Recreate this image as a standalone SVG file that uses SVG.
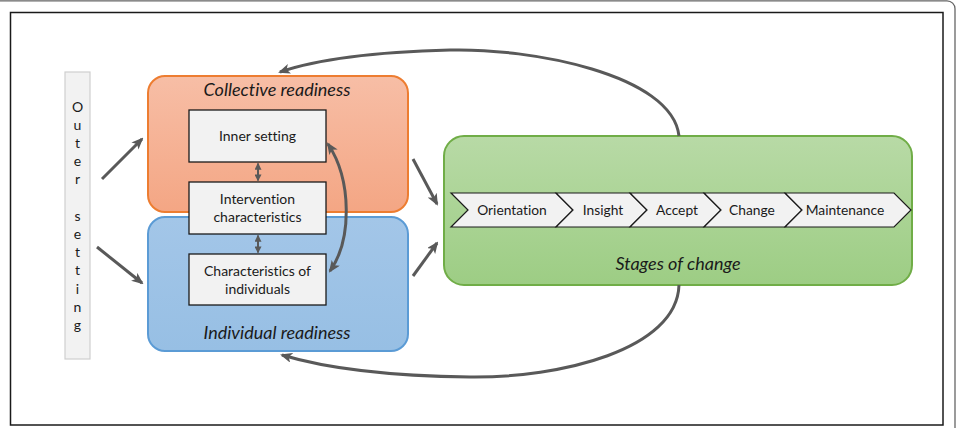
<svg xmlns="http://www.w3.org/2000/svg" width="957" height="428" viewBox="0 0 957 428">
<style>
.t{font-family:Lato,"Liberation Sans",sans-serif;fill:#1a1a1a;font-variant-ligatures:none}
.box{fill:#f2f2f2;stroke:#1a1a1a;stroke-width:1.3}
.lbl{font-size:14px;text-anchor:middle}
.cl{font-size:13.8px;text-anchor:middle}
.ttl{font-size:18px;font-style:italic;text-anchor:middle}
.arr{fill:none;stroke:#595959;stroke-width:3}
.thin{fill:none;stroke:#595959;stroke-width:2}
.chev{fill:#f2f2f2;stroke:#1a1a1a;stroke-width:1.2}
</style>
<defs>
<marker id="ah" viewBox="0 0 12 10" refX="10" refY="5" markerWidth="12" markerHeight="10" markerUnits="userSpaceOnUse" orient="auto-start-reverse">
<path d="M0,0 L12,5 L0,10 L3,5 z" fill="#595959"/>
</marker>
<marker id="sm" viewBox="0 0 8 8" refX="7" refY="4" markerWidth="7" markerHeight="7" markerUnits="userSpaceOnUse" orient="auto-start-reverse">
<path d="M0,0 L8,4 L0,8 z" fill="#595959"/>
</marker>
<linearGradient id="go" x1="0" y1="0" x2="0" y2="1"><stop offset="0" stop-color="#f7bea6"/><stop offset="1" stop-color="#f4a684"/></linearGradient>
<linearGradient id="gb" x1="0" y1="0" x2="0" y2="1"><stop offset="0" stop-color="#a3c6e8"/><stop offset="1" stop-color="#97bfe4"/></linearGradient>
<linearGradient id="gg" x1="0" y1="0" x2="0" y2="1"><stop offset="0" stop-color="#b8daa6"/><stop offset="1" stop-color="#9dcd84"/></linearGradient>
</defs>
<rect x="-20" y="0.8" width="975" height="460" rx="8" fill="#fff" stroke="#666" stroke-width="1.3"/>
<rect x="10.5" y="12.5" width="932.5" height="412.5" fill="#fff" stroke="#1a1a1a" stroke-width="1.5"/>

<g id="outer-setting">
<rect x="65" y="72" width="25" height="287" fill="#f2f2f2" stroke="#cfcfcf" stroke-width="1.2"/>
<g class="t lbl">
<text x="77.5" y="111.5">O</text><text x="77.5" y="129.7">u</text><text x="77.5" y="147.9">t</text><text x="77.5" y="166.1">e</text><text x="77.5" y="184.3">r</text>
<text x="77.5" y="220.7">s</text><text x="77.5" y="238.9">e</text><text x="77.5" y="257.1">t</text><text x="77.5" y="275.3">t</text><text x="77.5" y="293.5">i</text><text x="77.5" y="311.7">n</text><text x="77.5" y="329.9">g</text>
</g>
</g>

<g id="collective-readiness">
<rect x="148" y="76" width="260" height="136" rx="17" fill="url(#go)" stroke="#ed7d31" stroke-width="2"/>
<text class="t ttl" x="277" y="96">Collective readiness</text>
</g>
<g id="individual-readiness">
<rect x="148" y="217" width="260" height="134" rx="17" fill="url(#gb)" stroke="#5b9bd5" stroke-width="2"/>
<text class="t ttl" x="277" y="339">Individual readiness</text>
</g>

<g id="inner-setting">
<rect class="box" x="189" y="110" width="137" height="52"/>
<text class="t lbl" x="257.5" y="141">Inner setting</text>
</g>
<g id="intervention-characteristics">
<rect class="box" x="189" y="182" width="137" height="52"/>
<text class="t lbl" x="257.5" y="204">Intervention</text>
<text class="t lbl" x="257.5" y="222">characteristics</text>
</g>
<g id="characteristics-of-individuals">
<rect class="box" x="189" y="254" width="137" height="51"/>
<text class="t lbl" x="257.5" y="276">Characteristics of</text>
<text class="t lbl" x="257.5" y="294">individuals</text>
</g>

<g id="stages-of-change">
<rect x="444" y="136" width="468" height="149" rx="20" fill="url(#gg)" stroke="#70ad47" stroke-width="2"/>
<text class="t ttl" x="678" y="270">Stages of change</text>
<g id="orientation">
<path class="chev" d="M451,193 H556 L573,210 L556,227 H451 L468,210 z"/>
<text class="t cl" x="512" y="215">Orientation</text>
</g>
<g id="insight">
<path class="chev" d="M556,193 H630 L647,210 L630,227 H556 L573,210 z"/>
<text class="t cl" x="603" y="215">Insight</text>
</g>
<g id="accept">
<path class="chev" d="M630,193 H704 L721,210 L704,227 H630 L647,210 z"/>
<text class="t cl" x="677" y="215">Accept</text>
</g>
<g id="change">
<path class="chev" d="M704,193 H785 L802,210 L785,227 H704 L721,210 z"/>
<text class="t cl" x="752" y="215">Change</text>
</g>
<g id="maintenance">
<path class="chev" d="M785,193 H894 L911,210 L894,227 H785 L802,210 z"/>
<text class="t cl" x="845" y="215">Maintenance</text>
</g>
</g>

<g id="connectors">
<line class="arr" x1="102" y1="179" x2="142" y2="139" marker-end="url(#ah)"/>
<line class="arr" x1="97" y1="247" x2="142" y2="283" marker-end="url(#ah)"/>
<line class="arr" x1="413" y1="159" x2="437" y2="204" marker-end="url(#ah)"/>
<line class="arr" x1="413" y1="276" x2="437" y2="243" marker-end="url(#ah)"/>
<path class="arr" d="M679,136 C672,74 530,48 450,50 C370,52 315,60 280,72" marker-end="url(#ah)"/>
<path class="arr" d="M679,285 C677,350 560,378 470,377 C385,376 325,368 282,355" marker-end="url(#ah)"/>
<path class="arr" d="M328,144 C352,180 352,240 330,271" marker-start="url(#ah)" marker-end="url(#ah)"/>
<line class="thin" x1="258" y1="163.5" x2="258" y2="180.5" marker-start="url(#sm)" marker-end="url(#sm)"/>
<line class="thin" x1="258" y1="235.5" x2="258" y2="252.5" marker-start="url(#sm)" marker-end="url(#sm)"/>
</g>
</svg>
